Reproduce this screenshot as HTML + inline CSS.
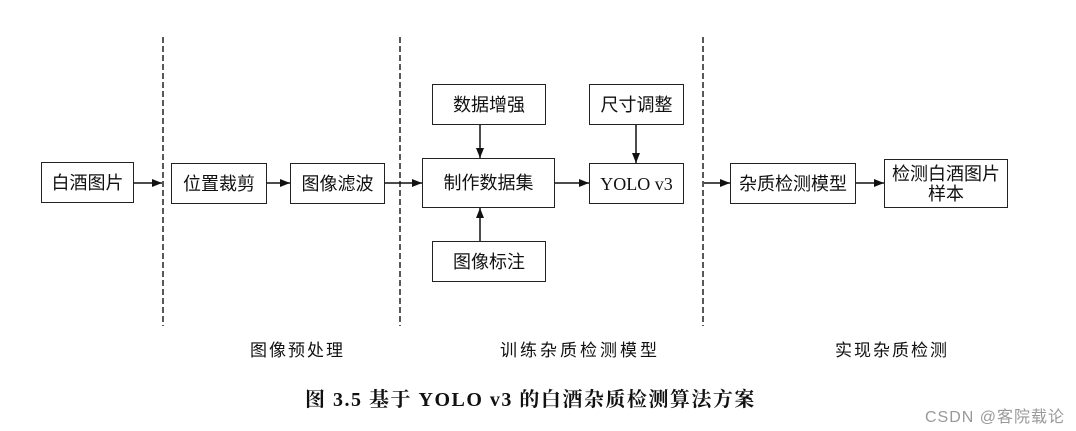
<!DOCTYPE html>
<html><head><meta charset="utf-8"><style>
body{margin:0;width:1076px;height:431px;background:#fff;overflow:hidden;position:relative;font-family:"Liberation Serif","Noto Serif CJK SC","Noto Sans CJK SC",serif;color:#111}
.b{position:absolute;border:1.5px solid #222;box-sizing:border-box;display:flex;align-items:center;justify-content:center;font-size:18px;text-align:center;line-height:20px;font-family:"Liberation Sans","Noto Sans CJK SC",sans-serif}
.t{position:absolute;font-size:17px;letter-spacing:2px;font-family:"Liberation Sans","Noto Sans CJK SC",sans-serif}
svg{position:absolute;left:0;top:0}
</style></head><body>
<svg width="1076" height="431">
<defs><marker id="a" markerWidth="10" markerHeight="8" refX="10" refY="4" orient="auto" markerUnits="userSpaceOnUse"><path d="M0,0L10,4L0,8z" fill="#111"/></marker></defs>
<g stroke="#222" stroke-width="1.5" stroke-dasharray="6,3">
<line x1="163" y1="37" x2="163" y2="326"/><line x1="400" y1="37" x2="400" y2="326"/><line x1="703" y1="37" x2="703" y2="326"/></g>
<g stroke="#111" stroke-width="1.5" marker-end="url(#a)">
<line x1="134" y1="183" x2="162" y2="183"/><line x1="267" y1="183" x2="290" y2="183"/>
<line x1="385" y1="183" x2="422" y2="183"/><line x1="555" y1="183" x2="589" y2="183"/>
<line x1="704" y1="183" x2="730" y2="183"/><line x1="856" y1="183" x2="884" y2="183"/>
<line x1="480" y1="125" x2="480" y2="158"/><line x1="480" y1="241" x2="480" y2="208"/>
<line x1="636" y1="125" x2="636" y2="163"/></g>
</svg>
<div class="b" style="left:41px;top:162px;width:93px;height:41px">白酒图片</div>
<div class="b" style="left:171px;top:163px;width:96px;height:41px">位置裁剪</div>
<div class="b" style="left:290px;top:163px;width:95px;height:41px">图像滤波</div>
<div class="b" style="left:422px;top:158px;width:133px;height:50px">制作数据集</div>
<div class="b" style="left:432px;top:84px;width:114px;height:41px">数据增强</div>
<div class="b" style="left:432px;top:241px;width:114px;height:41px">图像标注</div>
<div class="b" style="left:589px;top:163px;width:95px;height:41px;font-family:'Liberation Serif',serif">YOLO v3</div>
<div class="b" style="left:589px;top:84px;width:95px;height:41px">尺寸调整</div>
<div class="b" style="left:730px;top:163px;width:126px;height:41px">杂质检测模型</div>
<div class="b" style="left:884px;top:159px;width:124px;height:49px">检测白酒图片<br>样本</div>
<div class="t" style="left:250px;top:336px">图像预处理</div>
<div class="t" style="left:500px;top:336px;letter-spacing:3px">训练杂质检测模型</div>
<div class="t" style="left:835px;top:336px">实现杂质检测</div>
<div class="t" style="left:305px;top:383px;font-weight:bold;font-size:20px;letter-spacing:1.5px;font-family:'Liberation Serif','Noto Serif CJK SC',serif">图 3.5 基于 YOLO v3 的白酒杂质检测算法方案</div>
<div class="t" style="left:925px;top:403px;font-size:16px;letter-spacing:1px;color:#999">CSDN @客院载论</div>
</body></html>
